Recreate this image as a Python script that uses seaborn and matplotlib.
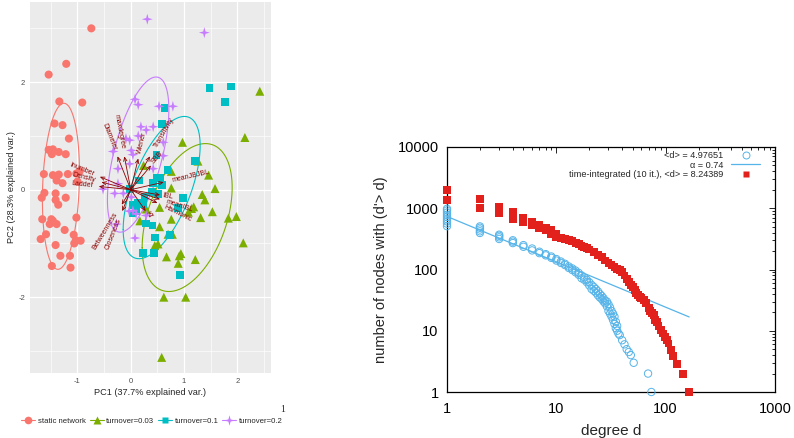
"""PCA biplot of network indices (left) and degree distribution, static vs
time-integrated network (right)."""

import numpy as np
import pandas as pd
import matplotlib

matplotlib.use("Agg")
import matplotlib.pyplot as plt
import seaborn as sns
from matplotlib.lines import Line2D
from matplotlib.path import Path
from matplotlib.ticker import FormatStrFormatter, LogLocator, NullFormatter

# ---- PCA scores, one pair of arrays per group ----
static_pc1 = [-0.74, -1.21, -1.54, -1.34, -0.91, -1.43, -1.28, -1.16, -1.46, -1.54,
              -1.48, -1.35, -1.22, -1.63, -1.46, -1.35, -1.39, -1.28, -1.18, -1.02,
              -0.96, -1.00, -1.62, -1.41, -1.67, -1.41, -1.22, -1.36, -1.66, -1.49,
              -1.02, -1.46, -1.39, -1.52, -1.24, -1.07, -1.03, -0.94, -1.69, -1.41,
              -1.14, -1.32, -1.48, -1.13, -1.59, -1.06]
static_pc2 = [3.00, 2.34, 2.14, 1.64, 1.62, 1.23, 1.20, 0.95, 0.75, 0.74,
              0.66, 0.70, 0.66, 0.29, 0.27, 0.28, 0.17, 0.12, 0.29, 0.30,
              0.34, 0.15, -0.06, -0.07, -0.15, -0.19, -0.15, -0.28, -0.55, -0.55,
              -0.52, -0.58, -0.64, -0.64, -0.75, -0.84, -0.94, -0.95, -0.92, -1.03,
              -1.23, -1.23, -1.42, -1.45, -0.83, -1.00]

t003_pc1 = [2.42, 2.14, 0.97, 1.26, 0.24, 0.76, 1.46, 1.58, 1.34, 1.39,
            1.53, 1.18, 1.08, 1.31, 1.83, 1.98, 0.76, 0.29, 0.17, 0.54,
            0.70, 0.78, 1.14, 2.11, 0.51, 0.45, 0.94, 0.91, 0.67, 1.21,
            0.89, 0.62, 1.03, 0.58, 0.76, 0.54]
t003_pc2 = [1.83, 0.97, 0.88, 0.53, 0.45, 0.34, 0.27, 0.02, -0.09, -0.19,
            -0.41, -0.32, -0.42, -0.52, -0.53, -0.50, -0.55, -0.36, -0.58, -0.69,
            -0.83, -0.83, -0.35, -0.99, -1.01, -1.04, -1.19, -1.23, -1.25, -1.30,
            -1.37, -2.00, -2.00, -3.12, 0.03, -0.33]

t01_pc1 = [1.48, 1.88, 1.77, 0.63, 0.59, 0.48, 1.21, 0.69, 0.15, 0.48,
           0.56, 0.42, 0.58, -0.02, 0.51, 0.26, 0.98, 0.40, 0.04, 0.14,
           0.23, 0.89, 0.11, 0.03, 0.29, 0.41, 0.45, 0.74, 0.23, 0.43, 0.92]
t01_pc2 = [1.89, 1.92, 1.63, 1.52, 1.22, 0.65, 0.53, 0.37, 0.17, 0.22,
           0.22, 0.12, 0.09, 0.01, -0.08, -0.13, -0.15, -0.04, -0.28, -0.25,
           -0.27, -0.34, -0.40, -0.44, -0.63, -0.67, -0.89, -0.84, -1.18, -1.18, -1.59]

t02_pc1 = [0.31, 1.38, 0.08, 0.14, 0.53, 0.79, 0.19, 0.29, 0.42, -0.09,
           -0.02, 0.14, 0.61, -0.33, 0.01, 0.04, -0.24, -0.02, 0.42, 0.61,
           -0.52, -0.24, -0.30, -0.14, 0.01, -0.03, 0.04, 0.29, 0.10, -0.27, 0.08]
t02_pc2 = [3.17, 2.92, 1.68, 1.58, 1.55, 1.55, 1.17, 1.11, 1.17, 0.95,
           0.92, 1.00, 0.88, 0.71, 0.73, 0.65, 0.39, 0.48, 0.39, 0.63,
           0.01, 0.11, -0.07, -0.07, -0.14, -0.40, -0.39, -0.48, -0.45, -0.64, -0.90]

groups = ["static network", "turnover=0.03", "turnover=0.1", "turnover=0.2"]
group_colors = ["#F8766D", "#7CAE00", "#00BFC4", "#C77CFF"]

# ---- variable loadings (arrow tips) ----
loading_names = ["Inumber", "Density", "Ladder", "Diameter", "maxdegree", "Wiener",
                 "Transitivity", "SBB", "meanJBJBL", "IBL", "meanIBL",
                 "Harmonic", "Kf", "Betweenness", "Closeness"]
loading_pc1 = [-0.58, -0.55, -0.60, -0.25, -0.12, 0.14, 0.36, 0.38, 0.62, 0.55,
               0.55, 0.50, 0.28, -0.17, -0.16]
loading_pc2 = [0.24, 0.14, 0.06, 0.62, 0.62, 0.58, 0.62, 0.45, 0.14, -0.10,
               -0.18, -0.25, -0.40, -0.28, -0.40]

# ---- cumulative degree distributions ----
static_deg = [1] * 9 + [2] * 5 + [3] * 4 + [4] * 3 + [5] * 2 + [6] * 2 + [7] * 2 + \
    [8] * 2 + [9] * 2 + [10] * 2 + [11] * 2 + [12] * 2 + [13] * 2 + [14] * 2 + \
    [15] * 2 + [16] * 2 + [17] * 2 + [18] * 2 + [19] * 2 + [20] * 2 + [21] * 2 + \
    [22] * 2 + [23] * 2 + [24] * 2 + [25] * 2 + [26] * 2 + [27] * 2 + [28] * 2 + \
    [29] * 2 + [30] * 2 + [31] * 2 + [32] * 2 + [33] * 2 + [34] * 2 + [35] * 2 + \
    [36] * 2 + [37, 38, 40, 42, 44, 46, 48, 51, 69, 74]
static_count = [510, 560, 610, 660, 720, 780, 850, 920, 980,
                395, 420, 450, 480, 505,
                315, 335, 355, 370,
                270, 285, 300,
                235, 250, 205, 220, 185, 195, 170, 178, 155, 163, 140, 148,
                128, 135, 118, 124, 106, 112, 98, 104, 90, 96, 82, 88, 72, 80,
                68, 74, 62, 68, 55, 62, 48, 56, 45, 52, 42, 48, 38, 44, 35, 40,
                33, 37, 30, 34, 28, 31, 25, 30, 21, 27, 19, 24, 17, 21, 15, 19,
                13, 17, 11, 14, 10, 12,
                9, 8.5, 7, 6, 5, 4.5, 4, 3, 2, 1]

integrated_deg = [1, 1, 2, 2, 3, 3, 4, 4, 5, 5, 6, 6, 7, 7, 8, 8, 9, 9, 10, 10,
                  11, 12, 13, 14, 15, 16, 17, 18, 19, 20, 22, 24, 26, 28, 30, 32,
                  34, 36, 38, 40, 42, 44, 46, 48, 50, 52, 54, 56, 58, 60, 63, 66,
                  70, 72, 75, 78, 80, 83, 86, 90, 95, 99, 103, 106, 112, 116, 128,
                  143, 164]
integrated_count = [1960, 1346, 1397, 996, 1035, 826, 857, 659, 684, 588, 588, 526,
                    526, 470, 470, 436, 436, 375, 375, 334,
                    325, 312, 300, 288, 275, 260, 245, 232, 222, 212, 195, 175,
                    158, 140, 128, 118, 110, 103, 97, 90, 80, 70, 62, 56, 51, 46,
                    41, 38, 35, 34, 32, 28, 23.3, 21, 19.5, 18, 15, 14, 12, 10.3,
                    9, 8, 7, 6.2, 4.9, 3.9, 2.9, 1.95, 1]

fit_deg = [1, 164]
fit_count = [735, 16.8]

# ---------------------------------------------------------------------------
sns.set_style("white")
plt.rcParams["font.family"] = ["Liberation Sans", "DejaVu Sans"]
plt.rcParams["axes.unicode_minus"] = False

fig = plt.figure(figsize=(7.94, 4.38), dpi=100)

# ---------------- left: biplot ----------------
ax1 = fig.add_axes([30 / 794, 1 - 373 / 438, 241 / 794, 371 / 438])
ax1.set_facecolor("#EBEBEB")
for s in ax1.spines.values():
    s.set_visible(False)

# four-point sparkle marker for the last group
ang = np.arange(8) * np.pi / 4 + np.pi / 2
rad = np.where(np.arange(8) % 2 == 0, 1.0, 0.3)
verts = np.column_stack([rad * np.cos(ang), rad * np.sin(ang)])
sparkle = Path(np.vstack([verts, verts[:1]]),
               [Path.MOVETO] + [Path.LINETO] * 7 + [Path.CLOSEPOLY])

scores = pd.concat([
    pd.DataFrame({"PC1": static_pc1, "PC2": static_pc2, "group": groups[0]}),
    pd.DataFrame({"PC1": t003_pc1, "PC2": t003_pc2, "group": groups[1]}),
    pd.DataFrame({"PC1": t01_pc1, "PC2": t01_pc2, "group": groups[2]}),
    pd.DataFrame({"PC1": t02_pc1, "PC2": t02_pc2, "group": groups[3]}),
], ignore_index=True)

markers = ["o", "^", "s", sparkle]
sizes = [34, 42, 30, 62]

for g, col, mk, sz in zip(groups, group_colors, markers, sizes):
    sub = scores[scores["group"] == g]
    sns.scatterplot(data=sub, x="PC1", y="PC2", color=col, marker=mk, s=sz,
                    edgecolor="none", linewidth=0, ax=ax1, legend=False, zorder=3)


def normal_ellipse(x, y, prob=0.68, n=100):
    """Normal-data ellipse as ggbiplot draws it."""
    theta = np.linspace(-np.pi, np.pi, n)
    circle = np.column_stack([np.cos(theta), np.sin(theta)])
    sigma = np.cov(np.vstack([x, y]))
    upper = np.linalg.cholesky(sigma).T
    ed = np.sqrt(-2 * np.log(1 - prob))
    pts = circle @ upper * ed + [np.mean(x), np.mean(y)]
    return pts[:, 0], pts[:, 1]


for g, col in zip(groups, group_colors):
    sub = scores[scores["group"] == g]
    ex, ey = normal_ellipse(sub["PC1"].values, sub["PC2"].values)
    ax1.plot(ex, ey, color=col, lw=0.8, zorder=2)

# loadings
for name, vx, vy in zip(loading_names, loading_pc1, loading_pc2):
    ax1.annotate("", xy=(vx, vy), xytext=(0, 0),
                 arrowprops=dict(arrowstyle="->,head_length=0.35,head_width=0.15",
                                 color="darkred", lw=0.6, shrinkA=0, shrinkB=0,
                                 mutation_scale=8), zorder=4)
    d = np.hypot(vx, vy)
    off = 0.25 * len(name) * 2.6
    ax1.annotate(name, xy=(vx, vy), xytext=(vx / d * off, vy / d * off),
                 textcoords="offset points",
                 rotation=np.degrees(np.arctan(vy / vx)), rotation_mode="anchor",
                 ha="left" if vx > 0 else "right", va="center",
                 fontsize=5, color="darkred", zorder=5)

ax1.set_xlim(-1.89, 2.63)
ax1.set_ylim(-3.41, 3.49)
ax1.set_xticks([-1, 0, 1, 2])
ax1.set_yticks([-2, 0, 2])
ax1.set_xticks([-1.5, -0.5, 0.5, 1.5, 2.5], minor=True)
ax1.set_yticks([-3, -1, 1, 3], minor=True)
ax1.set_axisbelow(True)
ax1.grid(which="major", color="white", lw=0.9)
ax1.grid(which="minor", color="white", lw=0.45)
ax1.tick_params(which="major", length=2, width=0.5, color="#333333",
                labelsize=5.5, labelcolor="#4D4D4D", pad=1.5)
ax1.tick_params(which="minor", length=0)
ax1.set_xlabel("PC1 (37.7% explained var.)", fontsize=6.6, labelpad=2)
ax1.set_ylabel("PC2 (28.3% explained var.)", fontsize=6.6, labelpad=2)

handles = [Line2D([0], [0], color=c, lw=0.8, marker=m, ms=ms, mec="none")
           for c, m, ms in zip(group_colors, markers, [5.5, 6, 5, 7.5])]
fig.legend(handles, groups, loc="center", bbox_to_anchor=(152 / 794, 1 - 421 / 438),
           ncol=4, frameon=False, fontsize=5.6, handlelength=1.8,
           handletextpad=0.35, columnspacing=0.45)
fig.text(283 / 794, 1 - 410 / 438, "1", family="Liberation Serif", fontsize=7,
         ha="center", va="center")

# ---------------- right: degree distribution ----------------
blue = "#56B4E9"
red = "#E3211C"
ax2 = fig.add_axes([447 / 794, 1 - 392 / 438, 328 / 794, 245 / 438])

sns.scatterplot(x=static_deg, y=static_count, marker="o", s=28, color=blue,
                facecolor="none", edgecolor=blue, linewidth=0.7, ax=ax2,
                legend=False, clip_on=False, zorder=3)
sns.lineplot(x=fit_deg, y=fit_count, color=blue, lw=0.9, ax=ax2, zorder=4)
sns.scatterplot(x=integrated_deg, y=integrated_count, marker="s", s=32, color=red,
                edgecolor="none", linewidth=0, ax=ax2, legend=False,
                clip_on=False, zorder=5)

ax2.set_xscale("log")
ax2.set_yscale("log")
ax2.set_xlim(1, 1000)
ax2.set_ylim(1, 10000)
for axis in (ax2.xaxis, ax2.yaxis):
    axis.set_major_locator(LogLocator(base=10, numticks=10))
    axis.set_minor_locator(LogLocator(base=10, subs=np.arange(2, 10), numticks=20))
    axis.set_major_formatter(FormatStrFormatter("%g"))
    axis.set_minor_formatter(NullFormatter())
for s in ax2.spines.values():
    s.set_color("black")
    s.set_linewidth(0.9)
ax2.tick_params(which="both", direction="in", top=True, right=True, width=0.6,
                labelsize=10.5, colors="black")
ax2.tick_params(axis="y", which="major", pad=6)
ax2.tick_params(axis="x", which="major", pad=7)
ax2.tick_params(which="major", length=4.5)
ax2.tick_params(which="minor", length=2.5)
ax2.set_xlabel("degree d", fontsize=11, labelpad=6)
ax2.set_ylabel("number of nodes with (d'> d)", fontsize=10.5, labelpad=7)

key_handles = [
    Line2D([], [], ls="none", marker="o", mfc="none", mec=blue, ms=5, mew=0.7),
    Line2D([], [], color=blue, lw=0.9),
    Line2D([], [], ls="none", marker="s", color=red, mec="none", ms=5),
]
key_labels = ["<d> = 4.97651", "\u03b1 = 0.74",
              "time-integrated (10 it.), <d> = 8.24389"]
ax2.legend(key_handles, key_labels, loc="upper right", bbox_to_anchor=(0.966, 0.998),
           borderaxespad=0, markerfirst=False, frameon=False, fontsize=6.6,
           handlelength=3.2, handletextpad=0.85, labelspacing=0.05)

fig.savefig("out.png", dpi=100)
